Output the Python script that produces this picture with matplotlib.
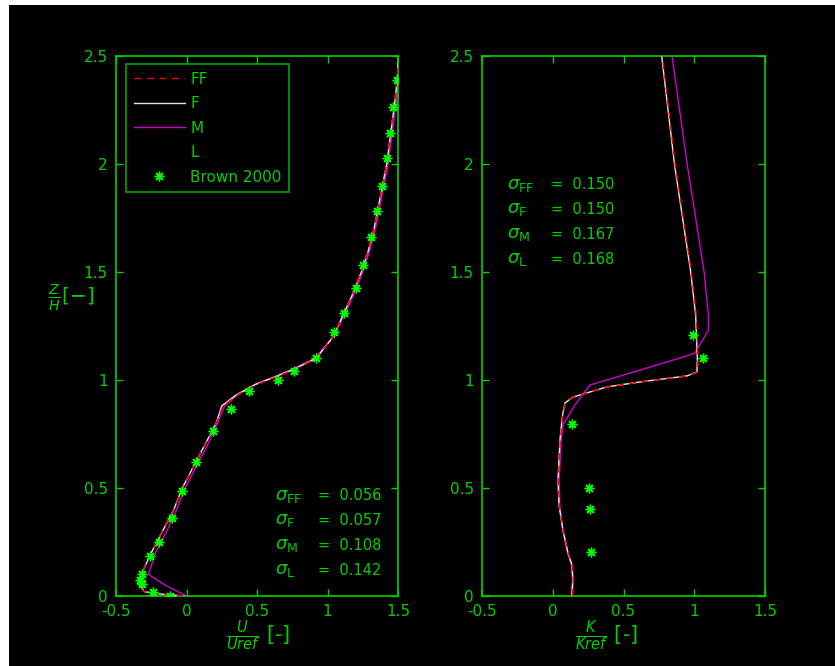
import matplotlib
matplotlib.use("Agg")
import matplotlib.pyplot as plt
from matplotlib.patches import Rectangle
import numpy as np

# ---------------- data ----------------
# Left panel: U/Uref vs z/H
brown_u = [1.493, 1.465, 1.443, 1.422, 1.387, 1.351, 1.309, 1.252, 1.202, 1.117,
           1.046, 0.918, 0.762, 0.649, 0.443, 0.316, 0.188, 0.067, -0.032, -0.103,
           -0.195, -0.259, -0.316, -0.33, -0.316, -0.238, -0.117]
brown_u_z = [2.389, 2.264, 2.144, 2.028, 1.898, 1.782, 1.662, 1.532, 1.426, 1.310,
             1.222, 1.102, 1.042, 1.0, 0.949, 0.866, 0.764, 0.620, 0.486, 0.361,
             0.25, 0.185, 0.102, 0.074, 0.056, 0.019, 0.0]

u_z = [0.0, 0.01, 0.02, 0.05, 0.1, 0.2, 0.3, 0.4, 0.5, 0.6, 0.7, 0.8, 0.88, 0.93,
       0.98, 1.02, 1.05, 1.1, 1.2, 1.3, 1.4, 1.5, 1.6, 1.7, 1.8, 1.9, 2.0, 2.1,
       2.2, 2.3, 2.4, 2.5]
u_FF = [-0.02, -0.2, -0.3, -0.33, -0.32, -0.25, -0.17, -0.09, -0.03, 0.05, 0.13,
        0.21, 0.26, 0.36, 0.5, 0.66, 0.77, 0.92, 1.04, 1.11, 1.18, 1.24, 1.29,
        1.33, 1.36, 1.39, 1.42, 1.44, 1.46, 1.48, 1.495, 1.505]
u_F = [-0.02, -0.2, -0.3, -0.33, -0.32, -0.25, -0.17, -0.09, -0.03, 0.05, 0.13,
       0.21, 0.25, 0.35, 0.49, 0.65, 0.76, 0.92, 1.04, 1.11, 1.18, 1.24, 1.29,
       1.33, 1.36, 1.39, 1.42, 1.44, 1.46, 1.48, 1.495, 1.505]
u_M = [0.0, -0.03, -0.06, -0.15, -0.27, -0.22, -0.14, -0.07, -0.01, 0.07, 0.15,
       0.22, 0.27, 0.36, 0.49, 0.64, 0.75, 0.91, 1.04, 1.12, 1.19, 1.25, 1.3,
       1.34, 1.37, 1.4, 1.43, 1.45, 1.47, 1.49, 1.5, 1.51]
u_L = [0.0, -0.03, -0.06, -0.15, -0.27, -0.22, -0.14, -0.07, -0.01, 0.07, 0.15,
       0.22, 0.27, 0.36, 0.49, 0.64, 0.75, 0.91, 1.04, 1.12, 1.19, 1.25, 1.3,
       1.34, 1.37, 1.4, 1.43, 1.45, 1.47, 1.49, 1.5, 1.51]

# Right panel: K/Kref vs z/H
brown_k = [0.991, 1.062, 0.136, 0.256, 0.263, 0.27]
brown_k_z = [1.208, 1.102, 0.796, 0.5, 0.403, 0.204]

k_z = [0.0, 0.074, 0.144, 0.199, 0.306, 0.421, 0.537, 0.722, 0.815, 0.847, 0.894,
       0.921, 0.968, 0.991, 1.019, 1.037, 1.1, 1.3, 1.5, 2.0, 2.5]
k_FF = [0.14, 0.145, 0.138, 0.11, 0.074, 0.046, 0.039, 0.053, 0.067, 0.074, 0.089,
        0.145, 0.385, 0.62, 0.955, 1.025, 1.027, 1.015, 0.98, 0.865, 0.775]
k_F = [0.136, 0.143, 0.136, 0.108, 0.072, 0.044, 0.037, 0.051, 0.065, 0.072, 0.087,
       0.143, 0.383, 0.617, 0.949, 1.019, 1.022, 1.01, 0.975, 0.86, 0.77]

k_Mz = [0.0, 0.074, 0.144, 0.199, 0.306, 0.421, 0.537, 0.722, 0.792, 0.884, 0.977,
        1.046, 1.116, 1.125, 1.23, 1.3, 1.5, 2.0, 2.5]
k_M = [0.13, 0.14, 0.132, 0.105, 0.07, 0.05, 0.045, 0.06, 0.072, 0.157, 0.263,
       0.617, 0.97, 1.005, 1.1, 1.1, 1.07, 0.95, 0.843]
k_L = [0.13, 0.14, 0.132, 0.105, 0.07, 0.05, 0.045, 0.06, 0.072, 0.157, 0.263,
       0.617, 0.97, 1.005, 1.1, 1.1, 1.07, 0.95, 0.843]

sig_left = ["0.056", "0.057", "0.108", "0.142"]
sig_right = ["0.150", "0.150", "0.167", "0.168"]
sig_names = ["FF", "F", "M", "L"]

xticks = [-0.5, 0, 0.5, 1, 1.5]
yticks = [0, 0.5, 1, 1.5, 2, 2.5]

# ---------------- style ----------------
GREEN = '#00d000'
MARK = '#00ff00'
C_FF = '#ff0000'
C_F = '#e6e6e6'
C_M = '#d000d0'
C_L = '#000000'

fig = plt.figure(figsize=(8.35, 6.66), dpi=100, facecolor='white')
fig.patches.append(Rectangle((9 / 835, 0), 1 - 9 / 835, 1 - 5 / 666,
                             transform=fig.transFigure, facecolor='black',
                             edgecolor='none', zorder=-10))

ax1 = fig.add_axes([116 / 835, 70 / 666, 282 / 835, 540 / 666])
ax2 = fig.add_axes([482 / 835, 70 / 666, 283 / 835, 540 / 666])

mk = dict(marker=(8, 2, 0), color=MARK, linestyle='none', markersize=7,
          markeredgewidth=1.0)

ax1.plot(u_FF, u_z, color=C_FF, lw=1.0, ls=(0, (5, 4)), label='FF', zorder=4)
ax1.plot(u_F, u_z, color=C_F, lw=1.0, label='F', zorder=3)
ax1.plot(u_M, u_z, color=C_M, lw=1.0, label='M', zorder=2)
ax1.plot(u_L, u_z, color=C_L, lw=1.0, label='L', zorder=1)
ax1.plot(brown_u, brown_u_z, label='Brown 2000', zorder=5, **mk)

ax2.plot(k_FF, k_z, color=C_FF, lw=1.0, ls=(0, (5, 4)), zorder=4)
ax2.plot(k_F, k_z, color=C_F, lw=1.0, zorder=3)
ax2.plot(k_M, k_Mz, color=C_M, lw=1.0, zorder=2)
ax2.plot(k_L, k_Mz, color=C_L, lw=1.0, zorder=1)
ax2.plot(brown_k, brown_k_z, zorder=5, **mk)

for ax in (ax1, ax2):
    ax.set_facecolor('black')
    ax.set_xlim(-0.5, 1.5)
    ax.set_ylim(0, 2.5)
    ax.set_xticks(xticks)
    ax.set_yticks(yticks)
    ax.set_xticklabels(['-0.5', '0', '0.5', '1', '1.5'])
    ax.set_yticklabels(['0', '0.5', '1', '1.5', '2', '2.5'])
    ax.tick_params(direction='in', colors=GREEN, labelcolor=GREEN, labelsize=11,
                   length=5, width=1, top=True, right=True)
    ax.tick_params(axis='x', pad=6)
    ax.tick_params(axis='y', pad=6)
    for s in ax.spines.values():
        s.set_color(GREEN)
        s.set_linewidth(1.2)

leg = ax1.legend(loc='upper left', bbox_to_anchor=(0.035, 0.985), frameon=True,
                 facecolor='black', edgecolor=GREEN, fancybox=False,
                 fontsize=11, handlelength=3.4, labelspacing=0.62,
                 borderpad=0.5, handletextpad=0.3, borderaxespad=0)
leg.get_frame().set_linewidth(1.2)
for t in leg.get_texts():
    t.set_color(GREEN)

# sigma annotations
left_rows = [0.465, 0.35, 0.235, 0.12]
for z, n, v in zip(left_rows, sig_names, sig_left):
    ax1.text(0.628, z, r'$\sigma_{\mathrm{%s}}$' % n, color=GREEN,
             fontsize=13, va='center', ha='left')
    ax1.text(0.93, z, '=  ' + v, color=GREEN, fontsize=10.5,
             va='center', ha='left')
right_rows = [1.905, 1.79, 1.675, 1.56]
for z, n, v in zip(right_rows, sig_names, sig_right):
    ax2.text(-0.32, z, r'$\sigma_{\mathrm{%s}}$' % n, color=GREEN,
             fontsize=13, va='center', ha='left')
    ax2.text(-0.01, z, '=  ' + v, color=GREEN, fontsize=10.5,
             va='center', ha='left')

# axis labels
fig.text(71 / 835, 1 - 298 / 666, r'$\frac{Z}{H}$[$-$]', color=GREEN,
         fontsize=14.5, ha='center', va='center')
fig.text(258 / 835, 1 - 636 / 666, r'$\frac{U}{Uref}$ [-]', color=GREEN,
         fontsize=15, ha='center', va='center')
fig.text(607 / 835, 1 - 636 / 666, r'$\frac{K}{Kref}$ [-]', color=GREEN,
         fontsize=15, ha='center', va='center')

fig.savefig('out.png', dpi=100, facecolor=fig.get_facecolor())
